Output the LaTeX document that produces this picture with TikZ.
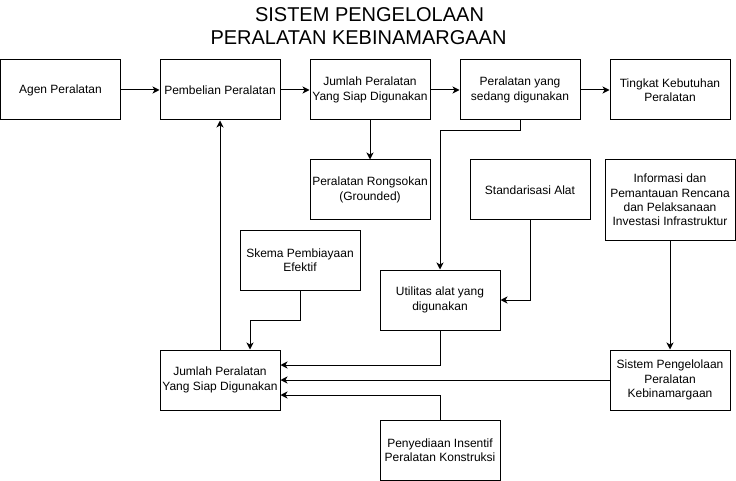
\documentclass[tikz,border=0pt]{standalone}
\usepackage{fontspec}
\setmainfont{Liberation Sans}
\usetikzlibrary{arrows.meta}
\begin{document}
\begin{tikzpicture}[x=1pt,y=-1pt,
  box/.style={draw,line width=1pt,minimum width=120pt,minimum height=60pt,inner sep=0pt,align=center,font=\fontsize{12}{14.4}\selectfont,text=black},
  arr/.style={line width=1pt,-{Stealth[length=7pt,width=7pt,inset=2pt]}},
  ttl/.style={font=\fontsize{20}{24}\selectfont,anchor=base,inner sep=0pt,text=black}]
\useasboundingbox (0,0) rectangle (736,481);
\node[ttl] (t1) at (369.5,21.5) {SISTEM PENGELOLAAN};
\node[ttl] (t2) at (358.5,45) {PERALATAN KEBINAMARGAAN};
\node[box] (agen) at (60.5,90) {Agen Peralatan};
\node[box] (pemb) at (220,90) {Pembelian Peralatan};
\node[box] (jtop) at (370,90) {Jumlah Peralatan\\Yang Siap Digunakan};
\node[box] (sedang) at (520,90) {Peralatan yang\\sedang digunakan};
\node[box] (ting) at (670,90) {Tingkat Kebutuhan\\Peralatan};
\node[box] (rong) at (370,190) {Peralatan Rongsokan\\(Grounded)};
\node[box] (std) at (530,190) {Standarisasi Alat};
\node[box,minimum width=130pt,minimum height=80pt] (info) at (670,200) {Informasi dan\\Pemantauan Rencana\\dan Pelaksanaan\\Investasi Infrastruktur};
\node[box] (skema) at (300,260) {Skema Pembiayaan\\Efektif};
\node[box] (util) at (440,300) {Utilitas alat yang\\digunakan};
\node[box] (jbot) at (220,380) {Jumlah Peralatan\\Yang Siap Digunakan};
\node[box] (sis) at (670,380) {Sistem Pengelolaan\\Peralatan\\Kebinamargaan};
\node[box] (pen) at (440,450) {Penyediaan Insentif\\Peralatan Konstruksi};
\draw[arr] (agen.east) -- (pemb.west);
\draw[arr] (pemb.east) -- (jtop.west);
\draw[arr] (jtop.east) -- (sedang.west);
\draw[arr] (sedang.east) -- (ting.west);
\draw[arr] (jtop.south) -- (rong.north);
\draw[arr] (sedang.south) -- ++(0,10) -| (util.north);
\draw[arr] (std.south) |- (util.east);
\draw[arr] (info.south) -- (sis.north);
\draw[arr] (sis.west) -- (jbot.east);
\draw[arr] (util.south) |- ([yshift=15pt]jbot.east);
\draw[arr] (pen.north) |- ([yshift=-15pt]jbot.east);
\draw[arr] (skema.south) -- ++(0,30) -| ([xshift=30pt]jbot.north);
\draw[arr] (jbot.north) -- (pemb.south);
\end{tikzpicture}
\end{document}
